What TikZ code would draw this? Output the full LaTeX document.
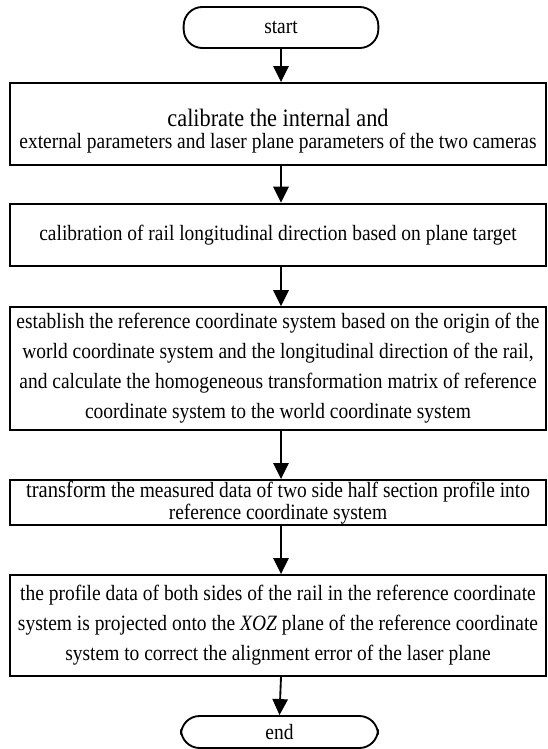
\documentclass[tikz,border=0pt]{standalone}
\usepackage{fontspec}
\setmainfont{Liberation Serif}[FakeStretch=0.89]
\usetikzlibrary{arrows.meta}
\tikzset{
  box/.style={draw, line width=1.4pt, minimum width=402pt, inner sep=0pt, align=center},
  term/.style={draw, line width=1.4pt, rounded corners=14pt, minimum width=146pt, inner sep=0pt},
  arr/.style={line width=1.4pt, -{Triangle[width=11.5pt,length=12pt]}},
  tight/.style={font={\fontsize{16.4}{16.8}\selectfont}},
  loose/.style={font={\fontsize{16.4}{22.5}\selectfont}}
}
\begin{document}
\begin{tikzpicture}[x=0.75pt,y=-0.75pt]
\useasboundingbox (0,0) rectangle (547,749);
\node[term, minimum height=30.75pt, loose] (start) at (281,27.5) {start};
\node[box, minimum height=61.5pt] (b1) at (278,124) {};
\node[align=center, inner sep=0pt, tight] (b1t) at (278,131) {{\fontsize{18.8}{16.8}\selectfont calibrate the internal and}\\external parameters and laser plane parameters of the two cameras};
\node[box, minimum height=47pt, loose] (b2) at (278,235) {calibration of rail longitudinal direction based on plane target};
\node[box, minimum height=92pt, loose] (b3) at (278,368.5) {establish the reference coordinate system based on the origin of the\\world coordinate system and the longitudinal direction of the rail,\\and calculate the homogeneous transformation matrix of reference\\coordinate system to the world coordinate system};
\node[box, minimum height=33.75pt, tight] (b4) at (278,502.5) {{\fontsize{17.4}{16.8}\selectfont transform} the measured data of two side half section profile into\\reference coordinate system};
\node[box, minimum height=75.75pt, loose] (b5) at (278,625.5) {the profile data of both sides of the rail in the reference coordinate\\system is projected onto the \textit{XOZ} plane of the reference coordinate\\system to correct the alignment error of the laser plane};
\node[term, minimum height=24pt, minimum width=147.75pt, loose] (end) at (279.5,732) {end};
\draw[arr] (start.south) -- (start.south |- b1.north);
\draw[arr] (start.south |- b1.south) -- (start.south |- b2.north);
\draw[arr] (start.south |- b2.south) -- (start.south |- b3.north);
\draw[arr] (start.south |- b3.south) -- (start.south |- b4.north);
\draw[arr] (start.south |- b4.south) -- (start.south |- b5.north);
\draw[arr] (start.south |- b5.south) -- (end.north);
\end{tikzpicture}
\end{document}
